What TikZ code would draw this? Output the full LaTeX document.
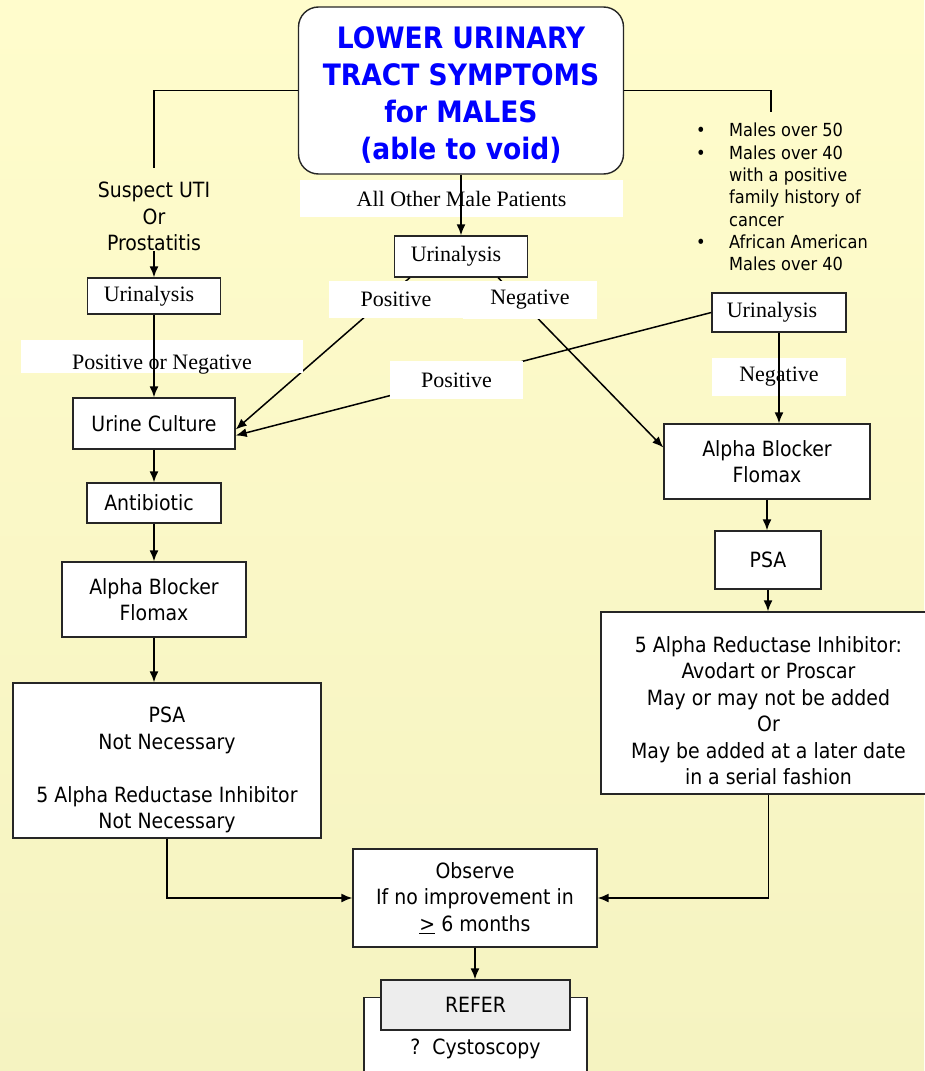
\documentclass[tikz,border=0pt]{standalone}
\usepackage{fontspec}
\setmainfont{Liberation Serif}
\newfontfamily\boxfont{DejaVu Sans Condensed}
\usetikzlibrary{arrows.meta}
\definecolor{lutsblue}{HTML}{0000FF}
\definecolor{lutsbgtop}{HTML}{FFFCCC}
\definecolor{lutsbgbot}{HTML}{F5F3C1}
\definecolor{lutsrefer}{HTML}{EDEDED}

\begin{document}
\begin{tikzpicture}[
    x=1pt, y=-1pt,
    box/.style={rectangle, draw=black!85, line width=1.4pt, fill=white, inner sep=2pt,
      align=center, font=\boxfont\fontsize{21}{26.5}\selectfont},
    serifbox/.style={box, font=\fontsize{22}{26}\selectfont},
    tag/.style={rectangle, fill=white, inner sep=0pt, font=\fontsize{22}{26}\selectfont},
    note/.style={align=center, inner sep=0pt, font=\boxfont\fontsize{21}{26.5}\selectfont},
    risklist/.style={inner sep=0pt, font=\boxfont\fontsize{18}{22.3}\selectfont},
    wire/.style={line width=1.5pt},
    arr/.style={wire, -{Latex[length=11pt,width=9pt]}}
  ]
    % background
    \shade[top color=lutsbgtop, bottom color=lutsbgbot] (0,0) rectangle (924,1071);
    \useasboundingbox (0,0) rectangle (924,1071);

    % title
    \node[box, rounded corners=20pt, minimum width=325pt, minimum height=167pt, text=lutsblue,
      font=\boxfont\bfseries\fontsize{29.5}{37}\selectfont] (title) at (461,90.5)
      {\mbox{}\\[-7pt]LOWER URINARY\\TRACT SYMPTOMS\\for MALES\\(able to void)};

    % left column
    \coordinate (leftTop) at (154,168);
    \node[note] (suspect) at (154,216.5) {Suspect UTI\\Or\\Prostatitis};
    \node[serifbox, minimum width=133pt, minimum height=36pt] (ua1) at (154,296) {Urinalysis\hspace{10pt}};
    \node[box, minimum width=162pt, minimum height=51pt] (culture) at (154,423.5) {Urine Culture};
    \node[box, minimum width=134pt, minimum height=40pt] (antib) at (154,503) {Antibiotic\hspace{10pt}};
    \node[box, minimum width=184pt, minimum height=75pt] (ab1) at (154,599.5) {Alpha Blocker\\Flomax};
    \node[box, minimum width=308pt, minimum height=155pt] (psa1) at (167,760.5)
      {\mbox{}\\[8.5pt]PSA\\Not Necessary\\[26.5pt]5 Alpha Reductase Inhibitor\\Not Necessary};

    % middle column
    \node[serifbox, minimum width=133pt, minimum height=41pt] (ua2) at (461,256.5) {Urinalysis\hspace{10pt}};

    % right column
    \coordinate (riskTop) at (771,112);
    \node[risklist, anchor=north west] (risk) at (696,121) {%
      \begin{tabular}{@{}p{33pt}@{}l@{}}
        \textbullet & Males over 50\\
        \textbullet & Males over 40\\
                    & with a positive\\
                    & family history of\\
                    & cancer\\
        \textbullet & African American\\
                    & Males over 40
      \end{tabular}};
    \node[serifbox, minimum width=134pt, minimum height=39pt] (ua3) at (779,312.5) {Urinalysis\hspace{14pt}};
    \node[box, minimum width=206pt, minimum height=75pt] (ab2) at (767,461.5) {Alpha Blocker\\Flomax};
    \node[box, minimum width=106pt, minimum height=58pt] (psa2) at (768,560) {PSA};
    \node[box, minimum width=335pt, minimum height=182pt] (ari) at (768.5,703)
      {\mbox{}\\[4.5pt]5 Alpha Reductase Inhibitor:\\Avodart or Proscar\\May or may not be added\\Or\\May be added at a later date\\in a serial fashion};

    % bottom
    \node[box, minimum width=244pt, minimum height=98pt] (observe) at (475,898)
      {Observe\\If no improvement in\\\underline{>} 6 months};
    \node[box, anchor=north, minimum width=223pt, inner ysep=0pt, text height=57pt, text depth=29pt]
      (cysto) at (475.5,997) {?\ \ Cystoscopy};
    \node[box, fill=lutsrefer, minimum width=189pt, minimum height=50pt] (refer) at (475.5,1005) {REFER};

    % lines under the labels
    \draw[arr] ([xshift=16pt]ua2.south west) -- ([yshift=-6pt]culture.east);
    \draw[arr] ([xshift=-30pt]ua2.south east) -- ([yshift=14pt]ab2.west);
    \draw[arr] (ua3.west) -- ([yshift=-12pt]culture.east);

    % labels
    \node[tag, minimum width=134pt, minimum height=37pt] (pos2) at (396,299.5) {Positive};
    \node[tag, minimum width=134pt, minimum height=38pt] (neg2) at (530,300) {Negative};
    \node[tag, minimum width=133pt, minimum height=38pt] (pos3) at (456.5,380) {Positive};
    \node[tag, minimum width=323pt, minimum height=37pt] (allother) at (461.5,198.5) {All Other Male Patients};
    \node[tag, anchor=north, minimum width=282pt, text height=29pt, text depth=4pt] (posneg) at (162,340) {Positive or Negative};
    \node[tag, minimum width=134pt, minimum height=38pt] (neg3) at (779,377) {Negative};

    % lines over the labels
    \draw[wire] (title.west) -| (leftTop);
    \draw[wire] (title.east) -| (riskTop);
    \draw[arr] (title) -- (ua2);
    \draw[arr] (suspect.south) -- (ua1.north);
    \draw[arr] (ua1) -- (culture);
    \draw[arr] (culture) -- (antib);
    \draw[arr] (antib) -- (ab1);
    \draw[arr] (ab1.south) -- (ab1.south |- psa1.north);
    \draw[arr] (psa1.south) |- (observe.west);
    \draw[arr] (ua3.south) -- (ua3.south |- ab2.north);
    \draw[arr] (ab2.south) -- (ab2.south |- psa2.north);
    \draw[arr] (psa2.south) -- (psa2.south |- ari.north);
    \draw[arr] (ari.south) |- (observe.east);
    \draw[arr] (observe.south) -- (observe.south |- refer.north);
\end{tikzpicture}
\end{document}
